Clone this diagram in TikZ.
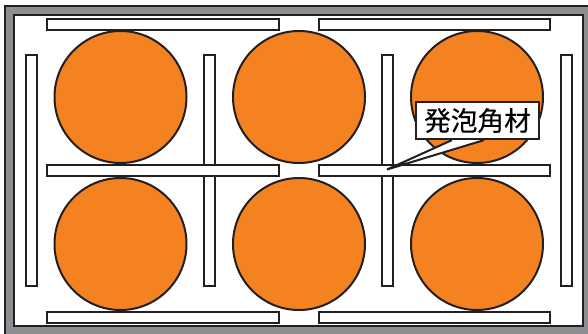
\documentclass[tikz,border=0pt]{standalone}
\usepackage{fontspec}
\usetikzlibrary{calc}
\newfontfamily\cjk[FakeBold=0.4]{Noto Sans CJK JP}
\definecolor{foamorange}{HTML}{F58220}
\definecolor{framegray}{HTML}{8C8E91}
\definecolor{inkline}{HTML}{231F20}
\begin{document}
\begin{tikzpicture}[
                x=0.75pt,y=-0.75pt,
                line width=1.5pt,
                frameline/.style={draw=inkline,line width=1.5pt},
                bar/.style={draw=inkline,fill=white},
                tank/.style={draw=inkline,fill=foamorange},
                labelbox/.style={draw=inkline,fill=white,inner sep=0pt,minimum width=92.5pt,minimum height=28pt,font=\cjk\fontsize{20}{20}\selectfont}
            ]
            \useasboundingbox (0,0) rectangle (588,333);

            % frame
            \draw[frameline,fill=framegray] (5,5.5) rectangle (592,337);
            \draw[frameline,fill=white] (13.5,14.5) rectangle (583,326);

            % circles
            \draw[tank] (120.5,97) circle [radius=66];
            \draw[tank] (299,97) circle [radius=66];
            \draw[tank] (477,97) circle [radius=66];
            \draw[tank] (120.5,244) circle [radius=66];
            \draw[tank] (299,244) circle [radius=66];
            \draw[tank] (477,244) circle [radius=66];

            % upright bars
            \draw[bar] (26,54.5) rectangle (37,286);
            \draw[bar] (204,54.5) rectangle (215,286);
            \draw[bar] (382,54.5) rectangle (393,286);
            \draw[bar] (560.5,54.5) rectangle (571.5,286);

            % lying bars
            \draw[bar] (47,18.5) rectangle (279,29.5);
            \draw[bar] (319,18.5) rectangle (550,29.5);
            \draw[bar] (47,165) rectangle (279,176);
            \draw[bar] (319,165) rectangle (550,176);
            \draw[bar] (47,311.5) rectangle (279,322.5);
            \draw[bar] (319,311.5) rectangle (550,322.5);

            % label with pointer
            \node[labelbox] (foam) at (477.5,120.5) {発泡角材};
            \coordinate (tip) at (387,169.5);
            \coordinate (pointerleft) at ($(foam.south west)+(37,0)$);
            \coordinate (pointerright) at ($(foam.south west)+(69,0)$);
            \fill[white] (pointerleft) -- (tip) -- (pointerright) -- cycle;
            \draw[draw=inkline,line join=miter] (pointerleft) -- (tip) -- (pointerright);

        \end{tikzpicture}
\end{document}
